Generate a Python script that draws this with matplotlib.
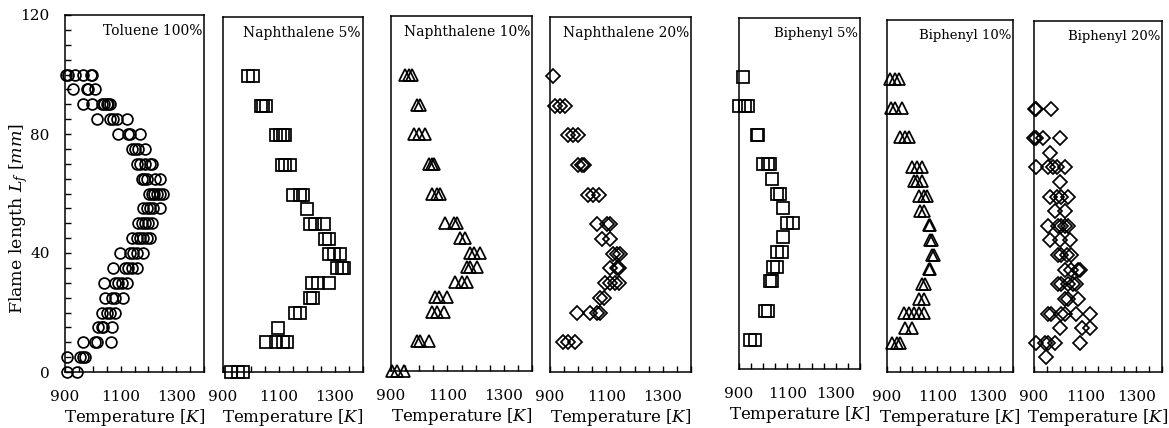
import matplotlib
matplotlib.use("Agg")
import matplotlib.pyplot as plt
from matplotlib.ticker import MultipleLocator, FixedLocator

plt.rcParams['font.family'] = ['DejaVu Serif']
plt.rcParams['mathtext.fontset'] = 'dejavuserif'

# Flame height rows [mm] and the temperatures measured at each row [K]
toluene_h = [100, 95, 90, 85, 80, 75, 70, 65, 60, 55, 50, 45, 40, 35, 30, 25, 20, 15, 10, 5, 0]
toluene_T = [
    [902, 912, 936, 966, 992, 996],
    [928, 978, 984, 1008],
    [966, 996, 1032, 1040, 1050, 1056, 1062],
    [1014, 1062, 1074, 1086, 1122],
    [1092, 1128, 1134, 1170],
    [1140, 1152, 1164, 1188],
    [1158, 1170, 1188, 1206, 1212],
    [1176, 1184, 1194, 1224, 1242],
    [1203, 1212, 1220, 1230, 1242, 1254],
    [1182, 1194, 1206, 1218, 1242],
    [1164, 1176, 1188, 1200, 1212],
    [1140, 1158, 1170, 1182, 1194, 1206],
    [1098, 1134, 1146, 1158, 1182],
    [1074, 1116, 1128, 1140, 1158],
    [1040, 1080, 1092, 1104, 1122],
    [1044, 1068, 1080, 1110],
    [1032, 1050, 1062, 1080],
    [1020, 1032, 1038, 1068],
    [966, 1008, 1014, 1066],
    [906, 954, 966, 972],
    [906, 942],
]

naph5_h = [100, 90, 80, 70, 60, 55, 50, 45, 40, 35, 30, 25, 20, 15, 10, 0]
naph5_T = [
    [990, 1008],
    [1034, 1044, 1055],
    [1091, 1103, 1113, 1121],
    [1109, 1121, 1139],
    [1151, 1175, 1187],
    [1199],
    [1211, 1229, 1259],
    [1265, 1277],
    [1277, 1295, 1319],
    [1307, 1325, 1331],
    [1217, 1241, 1277],
    [1211, 1223],
    [1157, 1175],
    [1097],
    [1055, 1091, 1115, 1127],
    [930, 954, 972],
]

naph10_h = [100, 90, 80, 70, 60, 50, 45, 40, 35, 30, 25, 20, 10, 0]
naph10_T = [
    [951, 963, 975],
    [992, 1004],
    [980, 998, 1022],
    [1034, 1045, 1051],
    [1045, 1063, 1075],
    [1093, 1122, 1134],
    [1146, 1164],
    [1181, 1193, 1217],
    [1169, 1181, 1205],
    [1128, 1152, 1169],
    [1057, 1069, 1099],
    [1045, 1063, 1087],
    [992, 1004, 1034],
    [904, 921, 945],
]

naph20_h = [100, 90, 80, 70, 60, 50, 45, 40, 35, 30, 25, 20, 10]
naph20_T = [
    [912],
    [918, 936, 954],
    [965, 983, 1001],
    [1001, 1013, 1019],
    [1036, 1054, 1072],
    [1066, 1101, 1113],
    [1084, 1113],
    [1125, 1137, 1148],
    [1113, 1137, 1143],
    [1096, 1113, 1131, 1143],
    [1078, 1090],
    [995, 1042, 1066, 1078],
    [947, 965, 989],
]

biph5_h = [100, 90, 80, 70, 65, 60, 55, 50, 45, 40, 35, 30, 20, 10]
biph5_T = [
    [918],
    [900, 925, 939],
    [973, 980],
    [1001, 1021, 1028],
    [1038],
    [1056, 1069],
    [1083],
    [1097, 1124],
    [1083],
    [1056, 1076],
    [1042, 1056],
    [1028, 1035],
    [1007, 1021],
    [945, 966],
]

biph10_h = [100, 90, 80, 70, 65, 60, 55, 50, 45, 40, 35, 30, 25, 20, 15, 10]
biph10_T = [
    [911, 933, 946],
    [916, 933, 960],
    [953, 972, 986],
    [999, 1019, 1038],
    [1006, 1019, 1038],
    [1026, 1045, 1059],
    [1032, 1045],
    [1065, 1072],
    [1072, 1079],
    [1079, 1085],
    [1065, 1072],
    [1038, 1052],
    [1026, 1045],
    [966, 986, 1006, 1026, 1045],
    [973, 999],
    [920, 940, 953],
]

biph20_h = [90, 80, 75, 70, 65, 60, 55, 50, 45, 40, 35, 30, 25, 20, 15, 10, 5]
biph20_T = [
    [905, 909, 968],
    [900, 909, 935, 1001],
    [962],
    [909, 955, 975, 988, 1020],
    [1001],
    [962, 988, 1007, 1033],
    [981, 1020],
    [955, 994, 1007, 1020, 1033],
    [962, 1001, 1040],
    [994, 1007, 1027, 1046],
    [1020, 1046, 1073, 1079],
    [994, 1007, 1033, 1053, 1066],
    [1020, 1033, 1073],
    [955, 968, 1007, 1020, 1066, 1119],
    [1001, 1086, 1119],
    [909, 942, 955, 981, 1079],
    [946],
]

titles = ["Toluene 100%", "Naphthalene 5%", "Naphthalene 10%", "Naphthalene 20%",
          "Biphenyl 5%", "Biphenyl 10%", "Biphenyl 20%"]
heights = [toluene_h, naph5_h, naph10_h, naph20_h, biph5_h, biph10_h, biph20_h]
temps = [toluene_T, naph5_T, naph10_T, naph20_T, biph5_T, biph10_T, biph20_T]
markers = ['o', 's', '^', 'D', 's', '^', 'D']
msizes = [7.8, 8, 9, 7, 8, 9, 7]
title_fs = [10, 10, 10, 10, 9.5, 9.5, 9.5]

W, H = 1169, 428
# panel boxes in pixels: left, right, top, bottom
boxes = [(65, 204, 15, 372), (223, 363, 17, 372), (391, 532, 16, 371),
         (550, 691, 17, 372), (739, 860, 18, 369), (887, 1013, 20, 372),
         (1034, 1162, 21, 372)]

fig = plt.figure(figsize=(W / 100, H / 100), dpi=100)

for i in range(7):
    l, r, t, b = boxes[i]
    ax = fig.add_axes([l / W, 1 - b / H, (r - l) / W, (b - t) / H])

    xs, ys = [], []
    for h, row in zip(heights[i], temps[i]):
        for T in row:
            xs.append(T)
            ys.append(h)
    ax.plot(xs, ys, linestyle='none', marker=markers[i], ms=msizes[i],
            mfc='none', mec='black', mew=1.25, clip_on=False)

    ax.set_xlim(900, 1400)
    ax.set_ylim(0, 120)
    ax.xaxis.set_major_locator(FixedLocator([900, 1100, 1300]))
    ax.xaxis.set_minor_locator(MultipleLocator(50))
    ax.tick_params(axis='x', which='both', direction='in', length=4.5,
                   width=1, top=False, labelsize=11, pad=13)
    for s in ax.spines.values():
        s.set_linewidth(1.1)

    if i == 0:
        ax.yaxis.set_major_locator(MultipleLocator(40))
        ax.yaxis.set_minor_locator(MultipleLocator(5))
        ax.tick_params(axis='y', which='both', direction='in', length=4.5,
                       width=1, right=False, labelsize=11, pad=11)
        ax.set_ylabel("Flame length $L_f$ [$mm$]", fontsize=12.5)
        ax.yaxis.set_label_coords(-0.255, 0.43)
    else:
        ax.set_yticks([])

    ax.set_xlabel("Temperature [$K$]", fontsize=12, labelpad=2)
    ax.text(0.985, 0.955, titles[i], transform=ax.transAxes, ha='right',
            va='center', fontsize=title_fs[i])

fig.savefig("out.png", dpi=100)
